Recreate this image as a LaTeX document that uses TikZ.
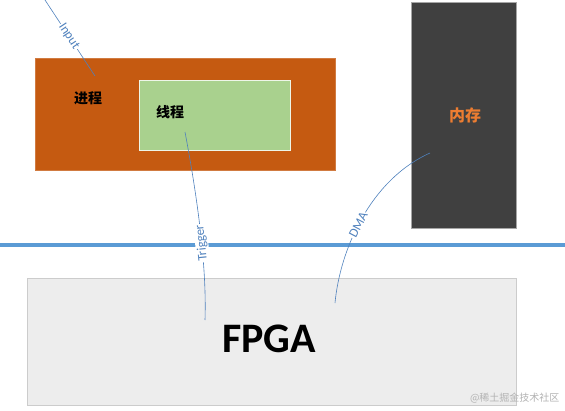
\documentclass[tikz,border=0pt]{standalone}
\usepackage{fontspec}
\setmainfont{Carlito}
\newfontfamily\cjk{Noto Sans CJK SC}
\begin{document}
\begin{tikzpicture}[x=1pt,y=-1pt,
  conn/.style={draw=linkblue, line width=0.6pt},
  lbl/.style={text=linkblue, font=\fontsize{13}{13}\selectfont, inner sep=1pt, fill=white},
  cjklbl/.style={font=\cjk\bfseries\fontsize{14}{14}\selectfont}]
\definecolor{procorange}{HTML}{C55A11}
\definecolor{thrgreen}{HTML}{A9D18E}
\definecolor{memdark}{HTML}{404040}
\definecolor{busblue}{HTML}{5B9BD5}
\definecolor{linkblue}{HTML}{4F81BD}
\definecolor{fpgafill}{HTML}{EDEDED}
\definecolor{memtext}{HTML}{ED7D31}
\useasboundingbox (0,0) rectangle (565,410);
% boxes
\node[draw=procorange!80!white, fill=procorange, minimum width=300pt, minimum height=112pt, inner sep=0pt, anchor=north west] (proc) at (35,58) {};
\node[draw=white!80!thrgreen, fill=thrgreen, minimum width=151pt, minimum height=70pt, inner sep=0pt, anchor=north west] (thr) at (139,80) {};
\node[draw=gray!70, fill=memdark, minimum width=105pt, minimum height=226pt, inner sep=0pt, anchor=north west] (mem) at (411,2) {};
\node[draw=gray!40, fill=fpgafill, minimum width=489pt, minimum height=127pt, inner sep=0pt, anchor=north west] (fpga) at (27,278) {};
% bus
\coordinate (busL) at (0,245);
\coordinate (busR) at (565,245);
\draw[busblue, line width=4pt] (busL) -- (busR);
% texts
\node[cjklbl] (proct) at (88,98) {进程};
\node[cjklbl] (thrt) at (170,112) {线程};
\node[cjklbl, text=memtext, font=\cjk\bfseries\fontsize{16}{16}\selectfont] (memt) at (465,115) {内存};
\node[font=\bfseries\fontsize{42}{42}\selectfont] (fpgat) at (269,339) {FPGA};
% connectors
\coordinate (inS) at (45,0);
\coordinate (inE) at (95,76);
\draw[conn] (inS) -- node[lbl, sloped, pos=0.48] {Input} (inE);
\coordinate (trS) at (185,132);
\coordinate (trE) at (205,320);
\draw[conn] (trS) .. controls (195,185) and (207,260) .. node[lbl, sloped, pos=0.6, rotate=180] {Trigger} (trE);
\coordinate (dmS) at (430,153);
\coordinate (dmE) at (335,303);
\draw[conn] (dmS) .. controls (370,180) and (340,250) .. node[lbl, sloped, pos=0.54] {DMA} (dmE);
% watermark
\node[text=gray!60, font=\cjk\fontsize{10}{10}\selectfont, anchor=east] (wm) at (563,398) {@稀土掘金技术社区};
\end{tikzpicture}
\end{document}
